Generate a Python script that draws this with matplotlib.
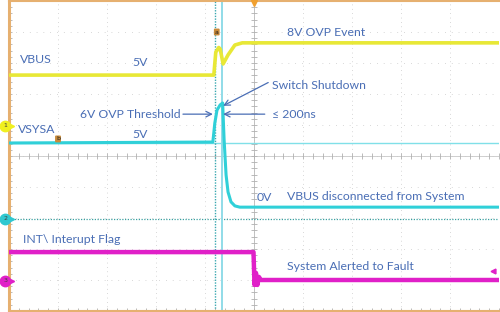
import matplotlib
matplotlib.use("Agg")
import matplotlib.pyplot as plt
import numpy as np

# ---- data (time and voltage in screen divisions) ----
vbus_t = [-5.0, -0.82, -0.78, -0.72, -0.69, -0.63, -0.53, -0.39, -0.24, 5.0]
vbus_v = [2.61, 2.61, 3.35, 3.50, 3.45, 2.97, 3.26, 3.58, 3.65, 3.65]

vsys_t = [-5.0, -0.84, -0.80, -0.755, -0.69, -0.64, -0.61, -0.57, -0.53, -0.47, -0.39, -0.29, 5.0]
vsys_v = [0.42, 0.45, 1.06, 1.48, 1.65, 1.71, 0.52, -0.61, -1.16, -1.48, -1.61, -1.65, -1.65]

int_t = [-5.0, -0.01, 0.01, 0.04, 0.07, 0.10, 0.14, 5.0]
int_v = [-3.10, -3.10, -4.16, -3.77, -4.16, -3.90, -4.00, -4.00]

cursor_dotted_x = -0.80
cursor_solid_x = -0.65
cursor_level_y = 0.42
ch2_ground_y = -2.03
ch_marker_y = [0.97, -2.03, -4.03]
ch_marker_lbl = ["1", "2", "3"]
ch_marker_col = ["#f0f020", "#30c8d0", "#e020c8"]

labels = [
    ("VBUS", -4.78, 3.10, "left"),
    ("5V", -2.33, 3.00, "center"),
    ("6V OVP Threshold", -3.55, 1.35, "left"),
    ("VSYSA", -4.82, 0.87, "left"),
    ("5V", -2.33, 0.68, "center"),
    ("8V OVP Event", 0.67, 3.97, "left"),
    ("Switch Shutdown", 0.37, 2.26, "left"),
    ("\u2264 200ns", 0.37, 1.35, "left"),
    ("0V", 0.06, -1.35, "left"),
    ("VBUS disconnected from System", 0.67, -1.32, "left"),
    ("System Alerted to Fault", 0.67, -3.58, "left"),
    ("INT\\ Interupt Flag", -4.71, -2.68, "left"),
]
arrows = [  # (from, to)
    ((-1.45, 1.35), (-0.84, 1.35)),
    ((0.22, 1.35), (-0.63, 1.35)),
    ((0.29, 2.37), (-0.63, 1.62)),
]

TXT = "#4a6eb5"
fig = plt.figure(figsize=(5, 3.12), dpi=100)
ax = fig.add_axes([9/500, 1/312, 490/500, 310/312])
ax.set_xlim(-5, 5)
ax.set_ylim(-5, 5)
ax.set_xticks([]); ax.set_yticks([])

bc = "#e6b070"
for s in ["left", "top", "bottom"]:
    ax.spines[s].set_color(bc)
ax.spines["left"].set_linewidth(2.2)
ax.spines["top"].set_linewidth(1.5)
ax.spines["bottom"].set_linewidth(1.5)
ax.spines["right"].set_visible(False)

# grid
gcol = "#c8c8c8"
for g in range(-4, 5):
    ax.plot([-5, 5], [g, g], color=gcol, lw=0.7, ls=(0, (0.7, 6.3)), zorder=1)
    ax.plot([g, g], [-5, 5], color=gcol, lw=0.7, ls=(0, (0.7, 3.8)), zorder=1)
# center axes
ax.axhline(0, color="#c8c8c8", lw=0.6, zorder=1)
ax.axvline(0, color="#b8b8b8", lw=0.6, zorder=1)
minor = np.arange(-5, 5.01, 0.2)
ax.plot(minor, np.zeros_like(minor), ls="none", marker="|", ms=4, mew=0.6, color="#b0b0b0", zorder=1)
ax.plot(np.zeros_like(minor), minor, ls="none", marker="_", ms=5, mew=0.6, color="#b0b0b0", zorder=1)
# border ticks
ax.plot(np.full_like(minor, -5), minor, ls="none", marker="_", ms=5, mew=0.6, color="#b0b0b0", zorder=1)
ax.plot(minor, np.full_like(minor, -5), ls="none", marker="|", ms=5, mew=0.6, color="#b0b0b0", zorder=1)

# reference lines / cursors
ax.axhline(ch2_ground_y, color="#3aa0a0", lw=0.9, ls=(0, (1, 1.2)), zorder=2)
ax.axhline(cursor_level_y, color="#80e0e8", lw=1.0, zorder=2)
ax.axvline(cursor_dotted_x, color="#3aa8b0", lw=1.0, ls=(0, (1, 1)), zorder=2)
ax.axvline(cursor_solid_x, color="#90dce8", lw=1.4, zorder=2)

# traces
ax.plot(vbus_t, vbus_v, color="#e8e836", lw=2.6, solid_joinstyle="round", zorder=3)
ax.plot(vsys_t, vsys_v, color="#30d0d8", lw=2.2, solid_joinstyle="round", zorder=3)
ax.plot(int_t, int_v, color="#e020c8", lw=3.2, solid_joinstyle="round", zorder=3)

# channel markers
for y, l, c in zip(ch_marker_y, ch_marker_lbl, ch_marker_col):
    ax.plot([-5.08], [y], marker="o", ms=7.5, color=c, mec=c, clip_on=False, zorder=6)
    ax.plot([-4.93], [y], marker=">", ms=3, color=c, clip_on=False, zorder=6)
    ax.text(-5.08, y, l, fontsize=4.5, ha="center", va="center", color="#404040", clip_on=False, zorder=7)

# small letter markers
for lt, x, y in [("a", -0.76, 4.0), ("b", -4.0, 0.55)]:
    ax.text(x, y, lt, fontsize=4.5, ha="center", va="center", color="#202020", zorder=7,
            bbox=dict(boxstyle="round,pad=0.15", fc="#c88a3a", ec="none"))
ax.plot([0], [4.93], marker="v", ms=5, color="#f0a030", clip_on=False, zorder=6)
ax.plot([4.88], [-3.71], marker="<", ms=3.5, color="#e020c8", zorder=6)

for t, x, y, ha in labels:
    ax.text(x, y, t, fontsize=8.8, family=["Lato", "DejaVu Sans"], color=TXT, ha=ha, va="center", zorder=8)
for (x0, y0), (x1, y1) in arrows:
    ax.annotate("", xy=(x1, y1), xytext=(x0, y0),
                arrowprops=dict(arrowstyle="->", color=TXT, lw=0.9, shrinkA=0, shrinkB=0), zorder=8)

fig.savefig("out.png", dpi=100)
